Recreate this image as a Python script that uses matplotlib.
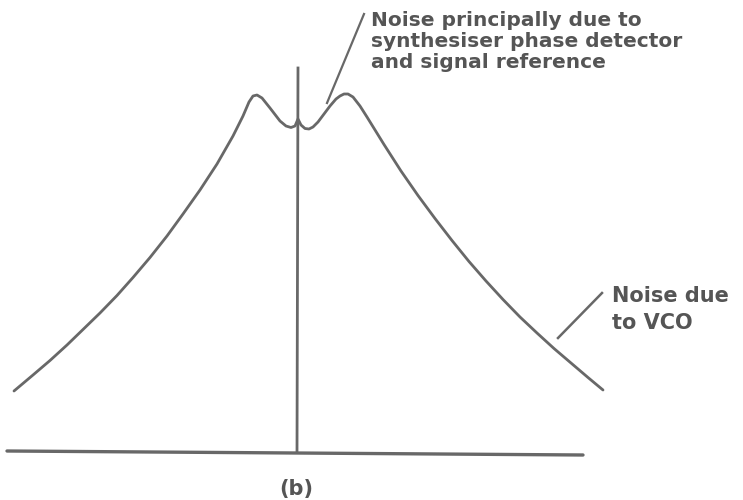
import matplotlib.pyplot as plt
plt.switch_backend('agg')

# noise spectrum in pixel coords (y downwards)
curve_x = [14, 33, 50, 67, 83, 100, 117, 133, 150, 167, 183, 200, 217, 233, 243, 249, 253, 257,
           262, 270, 280, 286, 291, 295, 298,
           301, 305, 309, 313, 318, 324, 330, 336, 340, 344, 348, 353, 360, 367,
           384, 401, 418, 435, 452, 469, 486, 503, 520, 537, 554, 571, 588, 603]
curve_y = [391, 375, 360.5, 345, 329.5, 313, 295.5, 277.5, 257.5, 236, 214, 190, 164, 136, 116, 102, 96, 95,
           98, 108, 121, 126, 127.5, 126, 119,
           125, 128.5, 129, 127, 122, 114, 106, 99, 96, 94, 94, 97, 106, 117,
           144.5, 171, 195.5, 218.5, 240.5, 261.5, 281, 299.5, 317, 333, 348.5, 363, 377.5, 390]

base_x = [7, 583]
base_y = [451, 455]
carrier_x = [297, 298]
carrier_y = [452, 68]

label_top = ["Noise principally due to", "synthesiser phase detector", "and signal reference"]
label_vco = ["Noise due", "to VCO"]
caption = "(b)"

grey = '#686868'
txt_grey = '#555555'

fig = plt.figure(figsize=(7.43, 5.0), dpi=100)
ax = fig.add_axes([0, 0, 1, 1])
ax.set_xlim(0, 743)
ax.set_ylim(500, 0)
ax.axis('off')

ax.plot(base_x, base_y, color=grey, lw=2.4, solid_capstyle='round')
ax.plot(carrier_x, carrier_y, color=grey, lw=2.0)
ax.plot(curve_x, curve_y, color=grey, lw=2.0, solid_joinstyle='round', solid_capstyle='round')

# pointer lines
ax.plot([327, 364], [103, 14], color=grey, lw=1.6)
ax.plot([558, 602], [338, 293], color=grey, lw=1.8)

# one text per line so the baselines sit where they do in the picture
for i, line in enumerate(label_top):
    ax.text(371, 26 + 21*i, line, va='baseline', ha='left', fontsize=14.5,
            fontweight='bold', color=txt_grey)
for i, line in enumerate(label_vco):
    ax.text(612, 302 + 27*i, line, va='baseline', ha='left', fontsize=15,
            fontweight='bold', color=txt_grey)
ax.text(296, 495, caption, va='baseline', ha='center', fontsize=15,
        fontweight='bold', color=txt_grey)

fig.savefig('out.png', dpi=100)
plt.close()
